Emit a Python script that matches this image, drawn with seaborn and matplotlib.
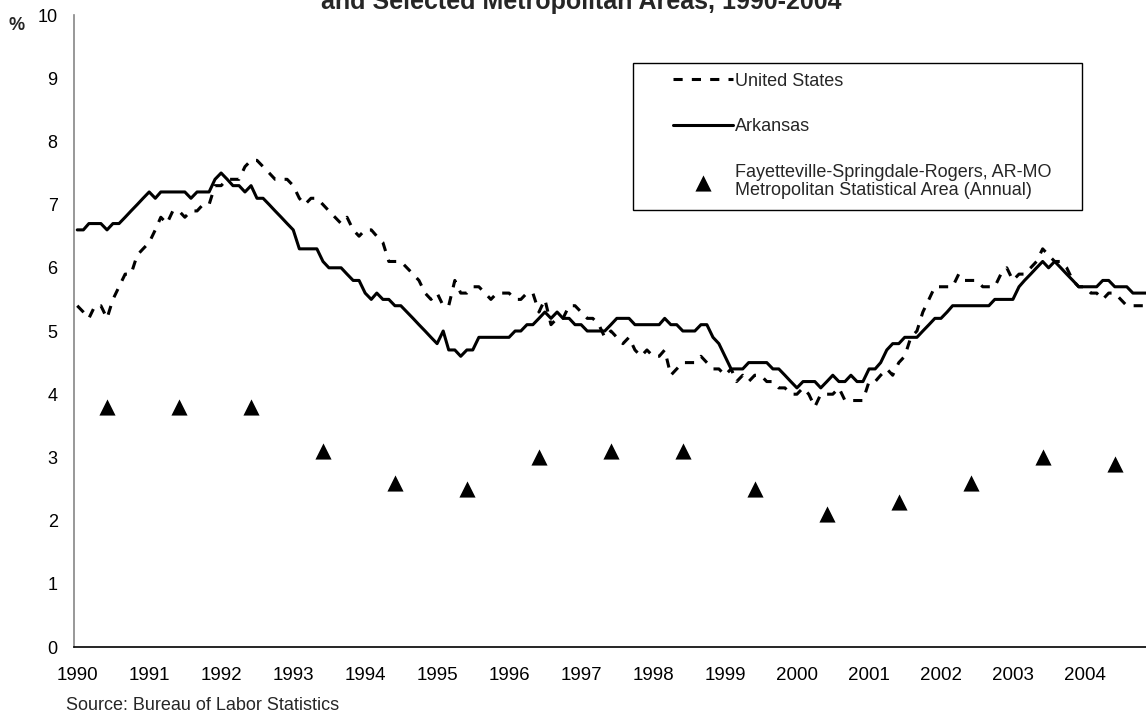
import matplotlib
matplotlib.use("Agg")
import matplotlib.dates as mdates
import matplotlib.pyplot as plt
import pandas as pd
import seaborn as sns
from matplotlib.patches import Rectangle
from matplotlib.transforms import ScaledTranslation

# Monthly unemployment rates (%), Jan 1990 - Dec 2004
us_rate = [
    5.4, 5.3, 5.2, 5.4, 5.4, 5.2, 5.5, 5.7, 5.9, 5.9, 6.2, 6.3,   # 1990
    6.4, 6.6, 6.8, 6.7, 6.9, 6.9, 6.8, 6.9, 6.9, 7.0, 7.0, 7.3,   # 1991
    7.3, 7.4, 7.4, 7.4, 7.6, 7.7, 7.7, 7.6, 7.5, 7.4, 7.4, 7.4,   # 1992
    7.3, 7.1, 7.0, 7.1, 7.1, 7.0, 6.9, 6.8, 6.7, 6.8, 6.6, 6.5,   # 1993
    6.6, 6.6, 6.5, 6.4, 6.1, 6.1, 6.1, 6.0, 5.9, 5.8, 5.6, 5.5,   # 1994
    5.6, 5.4, 5.4, 5.8, 5.6, 5.6, 5.7, 5.7, 5.6, 5.5, 5.6, 5.6,   # 1995
    5.6, 5.5, 5.5, 5.6, 5.6, 5.3, 5.5, 5.1, 5.2, 5.2, 5.4, 5.4,   # 1996
    5.3, 5.2, 5.2, 5.1, 4.9, 5.0, 4.9, 4.8, 4.9, 4.7, 4.6, 4.7,   # 1997
    4.6, 4.6, 4.7, 4.3, 4.4, 4.5, 4.5, 4.5, 4.6, 4.5, 4.4, 4.4,   # 1998
    4.3, 4.4, 4.2, 4.3, 4.2, 4.3, 4.3, 4.2, 4.2, 4.1, 4.1, 4.0,   # 1999
    4.0, 4.1, 4.0, 3.8, 4.0, 4.0, 4.0, 4.1, 3.9, 3.9, 3.9, 3.9,   # 2000
    4.2, 4.2, 4.3, 4.4, 4.3, 4.5, 4.6, 4.9, 5.0, 5.3, 5.5, 5.7,   # 2001
    5.7, 5.7, 5.7, 5.9, 5.8, 5.8, 5.8, 5.7, 5.7, 5.7, 5.9, 6.0,   # 2002
    5.8, 5.9, 5.9, 6.0, 6.1, 6.3, 6.2, 6.1, 6.1, 6.0, 5.8, 5.7,   # 2003
    5.7, 5.6, 5.6, 5.5, 5.6, 5.6, 5.5, 5.4, 5.4, 5.4, 5.4, 5.4,   # 2004
]
arkansas_rate = [
    6.6, 6.6, 6.7, 6.7, 6.7, 6.6, 6.7, 6.7, 6.8, 6.9, 7.0, 7.1,   # 1990
    7.2, 7.1, 7.2, 7.2, 7.2, 7.2, 7.2, 7.1, 7.2, 7.2, 7.2, 7.4,   # 1991
    7.5, 7.4, 7.3, 7.3, 7.2, 7.3, 7.1, 7.1, 7.0, 6.9, 6.8, 6.7,   # 1992
    6.6, 6.3, 6.3, 6.3, 6.3, 6.1, 6.0, 6.0, 6.0, 5.9, 5.8, 5.8,   # 1993
    5.6, 5.5, 5.6, 5.5, 5.5, 5.4, 5.4, 5.3, 5.2, 5.1, 5.0, 4.9,   # 1994
    4.8, 5.0, 4.7, 4.7, 4.6, 4.7, 4.7, 4.9, 4.9, 4.9, 4.9, 4.9,   # 1995
    4.9, 5.0, 5.0, 5.1, 5.1, 5.2, 5.3, 5.2, 5.3, 5.2, 5.2, 5.1,   # 1996
    5.1, 5.0, 5.0, 5.0, 5.0, 5.1, 5.2, 5.2, 5.2, 5.1, 5.1, 5.1,   # 1997
    5.1, 5.1, 5.2, 5.1, 5.1, 5.0, 5.0, 5.0, 5.1, 5.1, 4.9, 4.8,   # 1998
    4.6, 4.4, 4.4, 4.4, 4.5, 4.5, 4.5, 4.5, 4.4, 4.4, 4.3, 4.2,   # 1999
    4.1, 4.2, 4.2, 4.2, 4.1, 4.2, 4.3, 4.2, 4.2, 4.3, 4.2, 4.2,   # 2000
    4.4, 4.4, 4.5, 4.7, 4.8, 4.8, 4.9, 4.9, 4.9, 5.0, 5.1, 5.2,   # 2001
    5.2, 5.3, 5.4, 5.4, 5.4, 5.4, 5.4, 5.4, 5.4, 5.5, 5.5, 5.5,   # 2002
    5.5, 5.7, 5.8, 5.9, 6.0, 6.1, 6.0, 6.1, 6.0, 5.9, 5.8, 5.7,   # 2003
    5.7, 5.7, 5.7, 5.8, 5.8, 5.7, 5.7, 5.7, 5.6, 5.6, 5.6, 5.6,   # 2004
]
# Annual averages, Fayetteville-Springdale-Rogers MSA
msa_years = list(range(1990, 2005))
msa_rate = [3.8, 3.8, 3.8, 3.1, 2.6, 2.5, 3.0, 3.1, 3.1, 2.5, 2.1, 2.3, 2.6, 3.0, 2.9]

# Mid-month dates; the annual value sits at June
months = pd.date_range("1990-01-01", periods=len(us_rate), freq="MS") + pd.Timedelta(days=15)
monthly = pd.DataFrame({"date": months, "us": us_rate, "arkansas": arkansas_rate})
annual = pd.DataFrame({"date": pd.to_datetime([f"{y}-06-16" for y in msa_years]),
                       "msa": msa_rate})

sns.set_theme(style="white")
plt.rcParams["font.family"] = ["Liberation Sans", "DejaVu Sans"]

W, H = 1146, 717
fig = plt.figure(figsize=(W / 100, H / 100), dpi=100)
ax = fig.add_axes([74.3 / W, 70 / H, (1154 - 74.3) / W, 632 / H])

sns.lineplot(data=monthly, x="date", y="us", ax=ax, color="black",
             linewidth=2.2, linestyle=(0, (3, 3)), label="United States")
sns.lineplot(data=monthly, x="date", y="arkansas", ax=ax, color="black",
             linewidth=2.2, label="Arkansas")
sns.scatterplot(data=annual, x="date", y="msa", ax=ax, color="black",
                marker="^", s=135, linewidth=0,
                label="Fayetteville-Springdale-Rogers, AR-MO\n"
                      "Metropolitan Statistical Area (Annual)")

# Axes styling
ax.set_xlim(pd.Timestamp("1990-01-01"), pd.Timestamp("2005-01-01"))
ax.set_ylim(0, 10)
ax.set_yticks(range(0, 11))
ax.set_xticks(pd.to_datetime([f"{y}-01-01" for y in msa_years]))
ax.xaxis.set_major_formatter(mdates.DateFormatter("%Y"))
ax.set_xlabel("")
ax.set_ylabel("")
for side in ("top", "right"):
    ax.spines[side].set_visible(False)
ax.spines["left"].set_color("#868686")
ax.spines["left"].set_linewidth(1.2)
ax.spines["bottom"].set_color("black")
ax.spines["bottom"].set_linewidth(1.2)
ax.tick_params(axis="both", which="major", direction="out", length=5,
               width=1, color="#868686", labelcolor="black")
ax.tick_params(axis="x", pad=9.5, labelsize=13.5)
ax.tick_params(axis="y", pad=7, labelsize=13)
ax.grid(False)

# year labels sit a little right of their tick in the original
shift = ScaledTranslation(3 / 100, 0, fig.dpi_scale_trans)
for lab in ax.get_xticklabels():
    lab.set_transform(lab.get_transform() + shift)

# Legend: boxed, with handles inset from the frame
handles, labels = ax.get_legend_handles_labels()
leg = ax.legend(handles, labels, loc="upper left", frameon=False,
                bbox_to_anchor=(673 / W, 1 - 72.5 / H),
                bbox_transform=fig.transFigure, borderpad=0, borderaxespad=0,
                fontsize=13, handlelength=3.3, handletextpad=0.15,
                labelspacing=1.6)
for t in leg.get_texts():
    t.set_linespacing(1.05)
fig.add_artist(Rectangle((633 / W, 1 - 210 / H), (1082 - 633) / W, (210 - 63) / H,
                         transform=fig.transFigure, fill=False,
                         edgecolor="black", linewidth=1))

# Titles and notes (first title line falls above the visible area)
fig.text(581 / W, 1 - 9 / H, "and Selected Metropolitan Areas, 1990-2004",
         ha="center", va="baseline", fontsize=18, fontweight="bold")
fig.text(17 / W, 1 - 26 / H, "%", ha="center", va="center",
         fontsize=13, fontweight="bold")
fig.text(66 / W, 1 - 705 / H, "Source: Bureau of Labor Statistics",
         ha="left", va="center", fontsize=13)

fig.savefig("out.png", dpi=100)
